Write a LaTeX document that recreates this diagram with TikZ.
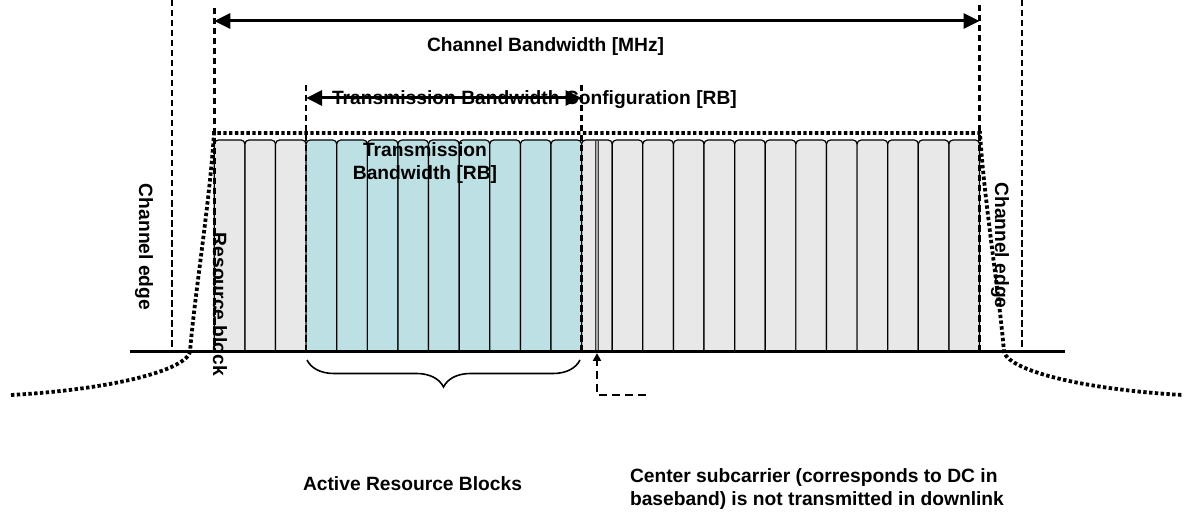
\documentclass[tikz,border=0pt]{standalone}
\usepackage{fontspec}
\setmainfont{Liberation Sans}
\usetikzlibrary{arrows.meta,decorations.pathreplacing}
\definecolor{rbblue}{RGB}{188,224,227}
\definecolor{rbgray}{RGB}{232,232,232}
\begin{document}
\begin{tikzpicture}[x=1bp,y=-1bp,
  lbl/.style={font=\fontsize{19.3}{23}\selectfont\bfseries, inner sep=0pt, outer sep=0pt},
  vdash/.style={line width=2.4bp, dash pattern=on 6.5bp off 3.5bp},
  mask/.style={line width=3.8bp, dash pattern=on 3.4bp off 2.4bp},
  rbbox/.style={draw=black, line width=1.2bp, rounded corners=4bp},
  bigarrow/.style={line width=3bp, {Triangle[length=16bp,width=15bp]}-{Triangle[length=16bp,width=15bp]}},
  ptr/.style={line width=2.6bp, dash pattern=on 8bp off 5bp, -{Triangle[length=8bp,width=8bp]}}]
\useasboundingbox (0,0) rectangle (1185,513);
% resource blocks
\begin{scope}
  \clip (0,0) rectangle (1185,352);
  \foreach \i in {0,1,2,12,13,...,24}{
    \pgfmathsetmacro\xa{214.3+30.61*\i}
    \pgfmathsetmacro\xb{\xa+30.61}
    \path[rbbox, fill=rbgray] (\xa,140) rectangle (\xb,370);
  }
  \foreach \i in {3,...,11}{
    \pgfmathsetmacro\xa{214.3+30.61*\i}
    \pgfmathsetmacro\xb{\xa+30.61}
    \path[rbbox, fill=rbblue] (\xa,140) rectangle (\xb,370);
  }
\end{scope}
% DC subcarrier
\filldraw[fill=gray!70, draw=black!75, line width=0.8bp] (595.5,140) rectangle (598.5,352);
% baseline
\coordinate (axL) at (130,352);
\coordinate (axR) at (1065,352);
\draw[line width=3bp] (axL) -- (axR);
% spectrum mask
\draw[mask] (11,395) .. controls (104,390) and (184,372) .. (190,352)
  .. controls (194,300) and (210,200) .. (214,133) -- (980,133)
  .. controls (984,200) and (1000,300) .. (1004,352)
  .. controls (1010,372) and (1090,390) .. (1183,395);
% dashed verticals
\coordinate (ceLt) at (172,0);   \coordinate (ceLb) at (172,352);
\coordinate (ceRt) at (1022,0);  \coordinate (ceRb) at (1022,352);
\coordinate (cbLt) at (214.3,8); \coordinate (cbLb) at (214.3,352);
\coordinate (cbRt) at (979.5,5); \coordinate (cbRb) at (979.5,352);
\coordinate (tbLt) at (306.1,85); \coordinate (tbLb) at (306.1,352);
\coordinate (tbRt) at (581.6,85); \coordinate (tbRb) at (581.6,352);
\draw[vdash] (ceLt) -- (ceLb);
\draw[vdash] (ceRt) -- (ceRb);
\draw[vdash] (cbLt) -- (cbLb);
\draw[vdash] (cbRt) -- (cbRb);
\draw[vdash] (tbLt) -- (tbLb);
\draw[vdash] (tbRt) -- (tbRb);
% arrows
\coordinate (cbL) at (214.3,21);
\coordinate (cbR) at (979.5,21);
\draw[bigarrow] (cbL) -- (cbR);
\coordinate (tbL) at (306.1,98);
\coordinate (tbR) at (581.6,98);
\draw[bigarrow] (tbL) -- (tbR);
% brace
\coordinate (brL) at (307,360);
\coordinate (brR) at (580,360);
\draw[line width=1.6bp, decorate, decoration={brace, mirror, amplitude=27bp}] (brL) -- (brR);
% DC pointer
\coordinate (dcE) at (646,395);
\coordinate (dcC) at (597,395);
\coordinate (dcT) at (597,353);
\draw[ptr] (dcE) -- (dcC) -- (dcT);
% labels
\node[lbl, anchor=base west] (cbw) at (427,52) {Channel Bandwidth [MHz]};
\node[lbl, anchor=base west] (tbc) at (332,105) {Transmission Bandwidth Configuration [RB]};
\node[lbl, anchor=base] (tb1) at (425,157) {Transmission};
\node[lbl, anchor=base] (tb2) at (425,180) {Bandwidth [RB]};
\node[lbl, rotate=-90] (ceL) at (144,247) {Channel edge};
\node[lbl, rotate=-90] (ceR) at (1000,245.5) {Channel edge};
\node[lbl, rotate=-90] (rb) at (220,304.5) {Resource block};
\node[lbl, anchor=base west] (arb) at (303,490) {Active Resource Blocks};
\node[lbl, anchor=base west] (cs1) at (630,482) {Center subcarrier (corresponds to DC in};
\node[lbl, anchor=base west] (cs2) at (630,505) {baseband) is not transmitted in downlink};
\end{tikzpicture}
\end{document}
